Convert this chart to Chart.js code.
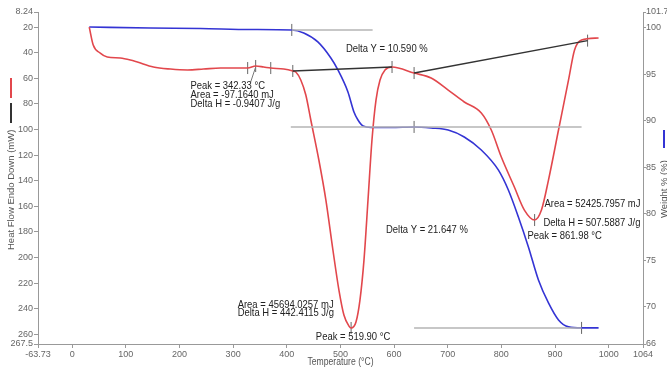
<!DOCTYPE html>
<html>
<head>
<meta charset="utf-8">
<script src="https://cdn.jsdelivr.net/npm/chart.js@4.4.1/dist/chart.umd.min.js"></script>
<style>
  html, body { margin: 0; padding: 0; background: #fff; }
  #wrap { width: 667px; height: 367px; }
</style>
</head>
<body>
<div id="wrap"><canvas id="dsc" width="667" height="367"></canvas></div>
<script>
// heat flow (left axis, mW) vs temperature
const heatTemp = [31.8, 39.2, 52.3, 65.4, 89.7, 108.4, 121.5, 151.4, 183.2, 215.0, 244.8, 276.6, 308.4, 327.1, 342.0, 357.0, 370.1, 394.4, 411.2, 416.8, 426.1, 435.5, 444.8, 459.8, 472.9, 486.0, 497.2, 506.5, 515.9, 519.9, 529.0, 536.4, 543.9, 551.4, 558.8, 566.3, 573.8, 583.1, 596.2, 637.3, 669.1, 700.9, 730.8, 762.6, 781.2, 799.9, 824.2, 842.9, 861.98, 874.7, 887.8, 906.5, 925.2, 936.4, 949.5, 981.2];
const heatFlow = [20.0, 34.0, 40.3, 43.4, 44.2, 45.7, 47.3, 51.2, 52.8, 53.5, 52.8, 52.0, 52.0, 52.0, 50.4, 51.2, 52.0, 52.8, 54.3, 55.1, 61.3, 73.1, 92.6, 123.8, 155.1, 194.1, 225.4, 244.9, 253.5, 255.0, 250.3, 233.2, 202.0, 155.1, 108.2, 77.0, 61.3, 53.5, 51.2, 55.9, 59.8, 69.2, 78.5, 87.1, 100.4, 121.5, 144.9, 162.9, 170.7, 162.9, 139.5, 100.4, 61.3, 37.9, 30.1, 28.5];

// weight % (right axis) vs temperature
const weightTemp = [31.8, 145.8, 239.2, 332.7, 409.3, 431.7, 457.9, 482.2, 495.3, 514.0, 525.2, 532.7, 542.0, 557.0, 594.3, 637.3, 669.1, 700.9, 730.8, 762.6, 794.3, 813.0, 831.7, 850.4, 869.1, 887.8, 906.5, 925.2, 949.5, 981.2];
const weightPct = [100.09, 99.98, 99.93, 99.82, 99.77, 99.44, 98.48, 96.75, 95.47, 93.1, 90.95, 90.09, 89.45, 89.28, 89.28, 89.34, 89.23, 89.01, 88.26, 86.86, 84.72, 82.56, 79.66, 76.44, 72.89, 70.42, 68.59, 67.84, 67.73, 67.73];

// peak integration baselines (heat flow)
const baseTemp1 = [411.2, 596.2];
const baseFlow1 = [54.3, 51.2];
const baseTemp2 = [637.3, 960.7];
const baseFlow2 = [55.9, 30.6];

// step reference lines (weight %)
const stepTemp = [[409.3, 560], [407.5, 949.5], [637.3, 949.5]];
const stepPct = [99.77, 89.34, 67.73];

// cursor marks
const markTempHF = [327.1, 342.0, 370.1, 411.2, 596.2, 637.3, 960.7, 861.98, 519.9];
const markFlowHF = [52.0, 50.4, 52.0, 54.3, 51.2, 55.9, 30.6, 170.7, 255.0];
const markTempWt = [409.3, 637.3, 949.5];
const markPctWt = [99.77, 89.34, 67.73];

// tick labels
const xTicks = [-63.73, 0, 100, 200, 300, 400, 500, 600, 700, 800, 900, 1000, 1064];
const hfTicks = [8.24, 20, 40, 60, 80, 100, 120, 140, 160, 180, 200, 220, 240, 260, 267.5];
const wtTicks = [66, 70, 75, 80, 85, 90, 95, 100, 101.7];

// result texts, anchored in temperature / heat flow units
const noteText = ['Peak = 342.33 °C', 'Area = -97.1640 mJ', 'Delta H = -0.9407 J/g', 'Delta Y = 10.590 %', 'Delta Y = 21.647 %', 'Area = 52425.7957 mJ', 'Delta H = 507.5887 J/g', 'Peak = 861.98 °C', 'Area = 45694.0257 mJ', 'Delta H = 442.4115 J/g', 'Peak = 519.90 °C'];
const noteTemp = [220.5, 220.5, 220.5, 510.2, 585.0, 880.3, 878.4, 848.5, 308.4, 308.4, 454.2];
const noteFlow = [66.0, 73.1, 80.1, 37.1, 178.5, 158.2, 173.0, 183.2, 237.1, 243.3, 262.0];

const RED = '#e2474c';
const BLUE = '#3434d4';
const GRAY = '#b4b4b4';
const FONT = '"Liberation Sans", Arial, sans-serif';
const SQUEEZE = 0.86; // the original text is a little narrow

const pts = (xs, ys) => xs.map((x, i) => ({ x: x, y: ys[i] }));

const datasets = [];
stepTemp.forEach((xs, i) => {
    datasets.push({ data: pts(xs, [stepPct[i], stepPct[i]]), yAxisID: 'y2', borderColor: GRAY, borderWidth: 1.5 });
});
datasets.push({ data: pts(baseTemp1, baseFlow1), yAxisID: 'y', borderColor: '#333', borderWidth: 1.5 });
datasets.push({ data: pts(baseTemp2, baseFlow2), yAxisID: 'y', borderColor: '#333', borderWidth: 1.5 });
// leader from the small peak to its text
datasets.push({ data: pts([342.0, 332.7], [51.2, 62.9]), yAxisID: 'y', borderColor: '#777', borderWidth: 1 });
datasets.push({ data: pts(heatTemp, heatFlow), yAxisID: 'y', borderColor: RED, borderWidth: 1.6, cubicInterpolationMode: 'monotone' });
datasets.push({ data: pts(weightTemp, weightPct), yAxisID: 'y2', borderColor: BLUE, borderWidth: 1.6, cubicInterpolationMode: 'monotone' });
datasets.push({ data: pts(markTempHF, markFlowHF), yAxisID: 'y', showLine: false, pointStyle: 'line', rotation: 90, pointRadius: 6, borderColor: '#666', borderWidth: 1 });
datasets.push({ data: pts(markTempWt, markPctWt), yAxisID: 'y2', showLine: false, pointStyle: 'line', rotation: 90, pointRadius: 6, borderColor: '#666', borderWidth: 1 });

function fixedTicks(list) {
    return scale => { scale.ticks = list.map(v => ({ value: v })); };
}

const tickFont = { family: FONT, size: 9 };

function axis(extra, tickLen, pad) {
    return Object.assign({
        type: 'linear',
        border: { color: '#999', width: 1 },
        grid: { drawOnChartArea: false, drawTicks: true, tickLength: tickLen, color: '#999' },
        ticks: { autoSkip: false, color: '#666', font: tickFont, padding: pad, callback: v => String(v) },
    }, extra);
}

function squeezedText(ctx, text, x, y, align) {
    const w = ctx.measureText(text).width * SQUEEZE;
    const left = align === 'center' ? x - w / 2 : x;
    ctx.save();
    ctx.translate(left, y);
    ctx.scale(SQUEEZE, 1);
    ctx.fillText(text, 0, 0);
    ctx.restore();
}

// axis titles, legend strokes and result texts
const decor = {
    id: 'decor',
    afterDatasetsDraw(chart) {
        const ctx = chart.ctx;
        const xs = chart.scales.x;
        const ys = chart.scales.y;
        ctx.save();
        ctx.fillStyle = '#222';
        ctx.font = '11px ' + FONT;
        ctx.textBaseline = 'middle';
        ctx.textAlign = 'left';
        noteText.forEach((t, i) => {
            squeezedText(ctx, t, xs.getPixelForValue(noteTemp[i]), ys.getPixelForValue(noteFlow[i]), 'left');
        });

        ctx.fillStyle = '#555';
        ctx.font = '10px ' + FONT;
        squeezedText(ctx, 'Temperature (°C)', (chart.chartArea.left + chart.chartArea.right) / 2, 362, 'center');

        ctx.font = '9.5px ' + FONT;
        ctx.save();
        ctx.translate(11, 250);
        ctx.rotate(-Math.PI / 2);
        ctx.fillText('Heat Flow Endo Down (mW)', 0, 0);
        ctx.restore();
        ctx.save();
        ctx.translate(664, 218);
        ctx.rotate(-Math.PI / 2);
        ctx.fillText('Weight % (%)', 0, 0);
        ctx.restore();

        ctx.lineWidth = 2;
        [[RED, 11, 78, 98], ['#333', 11, 103, 123], [BLUE, 664, 130, 148]].forEach(s => {
            ctx.strokeStyle = s[0];
            ctx.beginPath();
            ctx.moveTo(s[1], s[2]);
            ctx.lineTo(s[1], s[3]);
            ctx.stroke();
        });
        ctx.restore();
    }
};

new Chart(document.getElementById('dsc'), {
    type: 'scatter',
    data: { datasets: datasets },
    options: {
        responsive: false,
        animation: false,
        devicePixelRatio: 1,
        showLine: true,
        elements: { point: { radius: 0, hoverRadius: 0 } },
        layout: { padding: { top: 12, left: 0, right: 0, bottom: 0 } },
        plugins: { legend: { display: false }, tooltip: { enabled: false } },
        scales: {
            x: axis({ position: 'bottom', min: -63.73, max: 1064, afterBuildTicks: fixedTicks(xTicks), afterFit: s => { s.height = 23; } }, 4, 1),
            y: axis({ position: 'left', reverse: true, min: 8.24, max: 267.5, afterBuildTicks: fixedTicks(hfTicks), afterFit: s => { s.width = 38; } }, 4, 1),
            y2: axis({ position: 'right', min: 66, max: 101.7, afterBuildTicks: fixedTicks(wtTicks), afterFit: s => { s.width = 24; } }, 3, 0),
        },
    },
    plugins: [decor],
});
</script>
</body>
</html>
